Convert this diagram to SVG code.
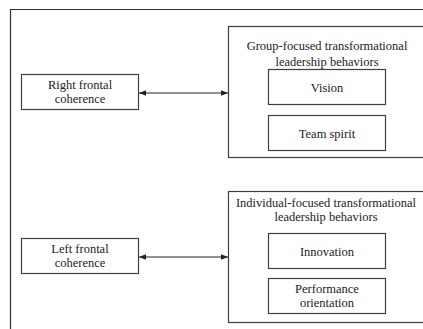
<svg xmlns="http://www.w3.org/2000/svg" width="423" height="329" viewBox="0 0 423 329">
<defs>
<style>
.b{fill:#fff;stroke:#404040;stroke-width:1.2}
.t{font-family:"Liberation Serif",serif;font-size:12.5px;fill:#222;text-anchor:middle}
.c{stroke:#222;stroke-width:1;fill:none}
</style>
<marker id="a" viewBox="0 0 10 10" refX="10" refY="5" markerWidth="7" markerHeight="7" orient="auto-start-reverse"><path d="M0,1 L10,5 L0,9 z" fill="#222"/></marker>
</defs>
<rect width="423" height="329" fill="#fff"/>
<path d="M10.5,329 V9.5 H423" fill="none" stroke="#303030" stroke-width="1.2"/>
<g id="right-frontal"><rect class="b" x="21.5" y="74.5" width="117" height="35"/><text class="t" x="80" y="89">Right frontal</text><text class="t" x="80" y="103">coherence</text></g>
<g id="group-focused"><rect class="b" x="228.5" y="26.5" width="200" height="131"/><text class="t" x="327" y="50">Group-focused transformational</text><text class="t" x="327" y="66">leadership behaviors</text></g>
<g id="vision"><rect class="b" x="268.5" y="69.5" width="117" height="35"/><text class="t" x="327" y="92">Vision</text></g>
<g id="team-spirit"><rect class="b" x="268.5" y="115.5" width="117" height="35"/><text class="t" x="327" y="138">Team spirit</text></g>
<g id="left-frontal"><rect class="b" x="21.5" y="238.5" width="117" height="35"/><text class="t" x="80" y="253">Left frontal</text><text class="t" x="80" y="267">coherence</text></g>
<g id="individual-focused"><rect class="b" x="228.5" y="191.5" width="200" height="131"/><text class="t" x="326" y="207">Individual-focused transformational</text><text class="t" x="326" y="221">leadership behaviors</text></g>
<g id="innovation"><rect class="b" x="268.5" y="233.5" width="117" height="35"/><text class="t" x="327" y="256">Innovation</text></g>
<g id="performance"><rect class="b" x="268.5" y="278.5" width="117" height="35"/><text class="t" x="327" y="293">Performance</text><text class="t" x="327" y="307">orientation</text></g>
<g id="connectors">
<line class="c" x1="139" y1="93" x2="228" y2="93" marker-start="url(#a)" marker-end="url(#a)"/>
<line class="c" x1="139" y1="257" x2="228" y2="257" marker-start="url(#a)" marker-end="url(#a)"/>
</g>
</svg>
